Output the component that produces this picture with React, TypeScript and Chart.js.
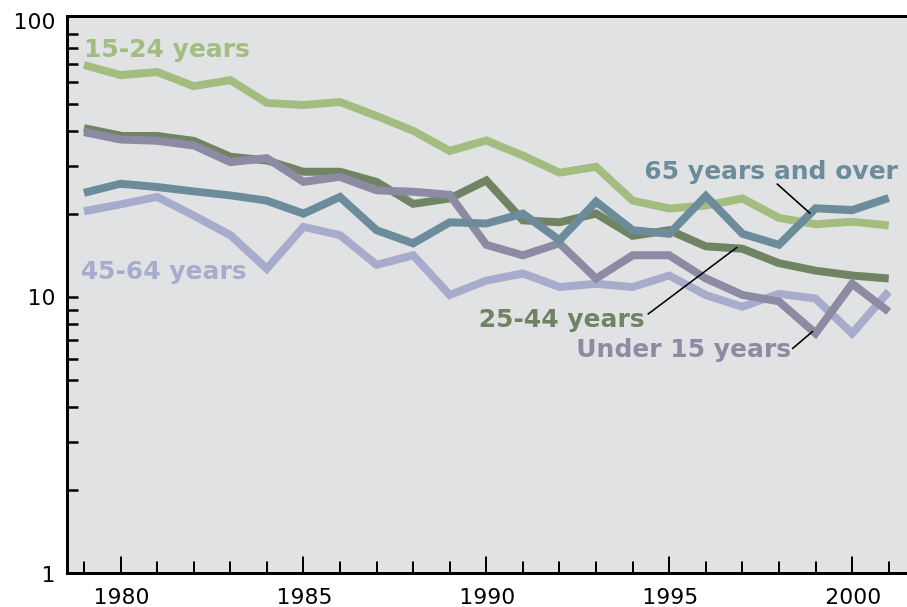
import React, { useEffect, useRef } from "react";
import { Chart, registerables } from "chart.js";

Chart.register(...registerables);

const years = [1979, 1980, 1981, 1982, 1983, 1984, 1985, 1986, 1987, 1988, 1989, 1990, 1991, 1992, 1993, 1994, 1995, 1996, 1997, 1998, 1999, 2000, 2001];

const age15to24 = [69.4, 63.8, 65.5, 58.2, 61.2, 50.6, 49.7, 51, 45.4, 40.1, 33.9, 37, 32.6, 28.3, 29.7, 22.4, 21, 21.5, 22.8, 19.4, 18.4, 18.8, 18.2];
const age25to44 = [41, 38.5, 38.4, 36.9, 32.3, 31.3, 28.5, 28.5, 26.2, 21.8, 22.8, 26.5, 19, 18.7, 20.1, 16.7, 17.5, 15.3, 15, 13.3, 12.5, 12.0, 11.7];
const under15 = [39.7, 37.3, 36.9, 35.5, 30.9, 31.9, 26.2, 27.3, 24.4, 24.1, 23.5, 15.5, 14.2, 15.7, 11.7, 14.2, 14.2, 11.7, 10.2, 9.67, 7.41, 11.2, 8.88];
const age45to64 = [20.5, 21.7, 23.1, 19.8, 16.8, 12.7, 18, 16.8, 13.1, 14.2, 10.2, 11.5, 12.2, 10.9, 11.2, 10.9, 12.0, 10.2, 9.25, 10.3, 9.9, 7.4, 10.5];
const age65plus = [23.9, 25.8, 25.1, 24.2, 23.4, 22.4, 20.1, 23.1, 17.5, 15.7, 18.7, 18.5, 20.1, 16.1, 22.2, 17.5, 17.0, 23.3, 17.0, 15.5, 21, 20.7, 22.9];

const seriesNames = ["65 years and over", "Under 15 years", "45-64 years", "25-44 years", "15-24 years"];
const seriesColors = ["#6c8c9c", "#8d8ba3", "#a8accc", "#708464", "#a3bc80"];
const seriesValues = [age65plus, under15, age45to64, age25to44, age15to24];

// inline label anchors (left / baseline) in data coordinates
const labelYears = [1994.32, 1992.46, 1978.91, 1989.79, 1979.0];
const labelValues = [26.9, 6.07, 11.7, 7.79, 74];

// leader lines: [year1, value1, year2, value2]
const leaderLines = [
  [1997.94, 25.8, 1998.86, 20.1],
  [1998.36, 6.51, 1998.93, 7.55],
  [1994.41, 8.68, 1996.86, 15.2],
];

const yTickLabels = [1, 10, 100];
const xTickLabels = [1980, 1985, 1990, 1995, 2000];

const PLOT_BG = "#e1e2e4";
const FONT = "'DejaVu Sans', Verdana, sans-serif";

const decorPlugin = {
  id: "decor",
  beforeDatasetsDraw(chart: any) {
    const { ctx, chartArea } = chart;
    ctx.save();
    ctx.fillStyle = PLOT_BG;
    ctx.fillRect(chartArea.left, chartArea.top, chartArea.right - chartArea.left, chartArea.bottom - chartArea.top);
    ctx.restore();
  },
  afterDatasetsDraw(chart: any) {
    const { ctx, chartArea } = chart;
    const xs = chart.scales.x;
    const ys = chart.scales.y;
    const L = chartArea.left, R = chartArea.right, T = chartArea.top, B = chartArea.bottom;
    ctx.save();
    // axes
    ctx.strokeStyle = "#000";
    ctx.lineWidth = 3;
    ctx.lineCap = "butt";
    ctx.beginPath();
    ctx.moveTo(R, T);
    ctx.lineTo(L, T);
    ctx.lineTo(L, B);
    ctx.lineTo(R, B);
    ctx.stroke();

    // y ticks (log minor)
    ctx.lineWidth = 2.5;
    ctx.beginPath();
    for (const d of [1, 10]) {
      for (let m = 2; m <= 10; m++) {
        const v = m * d;
        if (v >= 100) continue;
        const y = Math.round(ys.getPixelForValue(v)) + 0.5;
        ctx.moveTo(L, y);
        ctx.lineTo(L + 11, y);
      }
    }
    ctx.stroke();

    // x ticks
    ctx.lineWidth = 2;
    ctx.beginPath();
    for (const yr of years) {
      const x = Math.round(xs.getPixelForValue(yr));
      const len = yr % 5 === 0 ? 17 : 12;
      ctx.moveTo(x, B);
      ctx.lineTo(x, B - len);
    }
    ctx.stroke();

    // tick labels
    ctx.fillStyle = "#000";
    ctx.font = `22px ${FONT}`;
    ctx.textAlign = "right";
    ctx.textBaseline = "alphabetic";
    for (const v of yTickLabels) {
      const y = ys.getPixelForValue(v);
      ctx.fillText(String(v), L - 12, y + 8);
    }
    ctx.textAlign = "center";
    for (const yr of xTickLabels) {
      const x = xs.getPixelForValue(yr);
      ctx.fillText(String(yr), x + 1, 604);
    }

    // leader lines
    ctx.strokeStyle = "#000";
    ctx.lineWidth = 1.6;
    ctx.beginPath();
    for (const [y1, v1, y2, v2] of leaderLines) {
      ctx.moveTo(xs.getPixelForValue(y1), ys.getPixelForValue(v1));
      ctx.lineTo(xs.getPixelForValue(y2), ys.getPixelForValue(v2));
    }
    ctx.stroke();

    // inline series labels
    ctx.font = `bold 25px ${FONT}`;
    ctx.textAlign = "left";
    ctx.textBaseline = "alphabetic";
    seriesNames.forEach((name, i) => {
      ctx.fillStyle = seriesColors[i];
      ctx.fillText(name, xs.getPixelForValue(labelYears[i]), ys.getPixelForValue(labelValues[i]));
    });
    ctx.restore();
  },
};

export default function App() {
  const canvasRef = useRef<HTMLCanvasElement | null>(null);

  useEffect(() => {
    const canvas = canvasRef.current;
    if (!canvas) return;
    const chart = new Chart(canvas, {
      type: "line",
      data: {
        datasets: seriesNames.map((name, i) => ({
          label: name,
          data: years.map((yr, j) => ({ x: yr, y: seriesValues[i][j] })),
          borderColor: seriesColors[i],
          backgroundColor: seriesColors[i],
          borderWidth: 8,
          borderJoinStyle: "miter" as const,
          borderCapStyle: "butt" as const,
          pointRadius: 0,
          tension: 0,
          fill: false,
          order: i,
        })),
      },
      options: {
        responsive: false,
        animation: false,
        layout: { padding: { left: 67.5, top: 16.5, right: 0, bottom: 33.5 } },
        plugins: {
          legend: { display: false },
          tooltip: { enabled: false },
          title: { display: false },
        },
        scales: {
          x: { type: "linear", display: false, min: 1978.55, max: 2001.5 },
          y: { type: "logarithmic", display: false, min: 1, max: 104 },
        },
      },
      plugins: [decorPlugin],
    });
    return () => chart.destroy();
  }, []);

  return (
    <div style={{ position: "absolute", left: 0, top: 0, width: 907, height: 607, background: "#fff" }}>
      <canvas ref={canvasRef} width={907} height={607} style={{ display: "block", width: 907, height: 607 }} />
    </div>
  );
}
